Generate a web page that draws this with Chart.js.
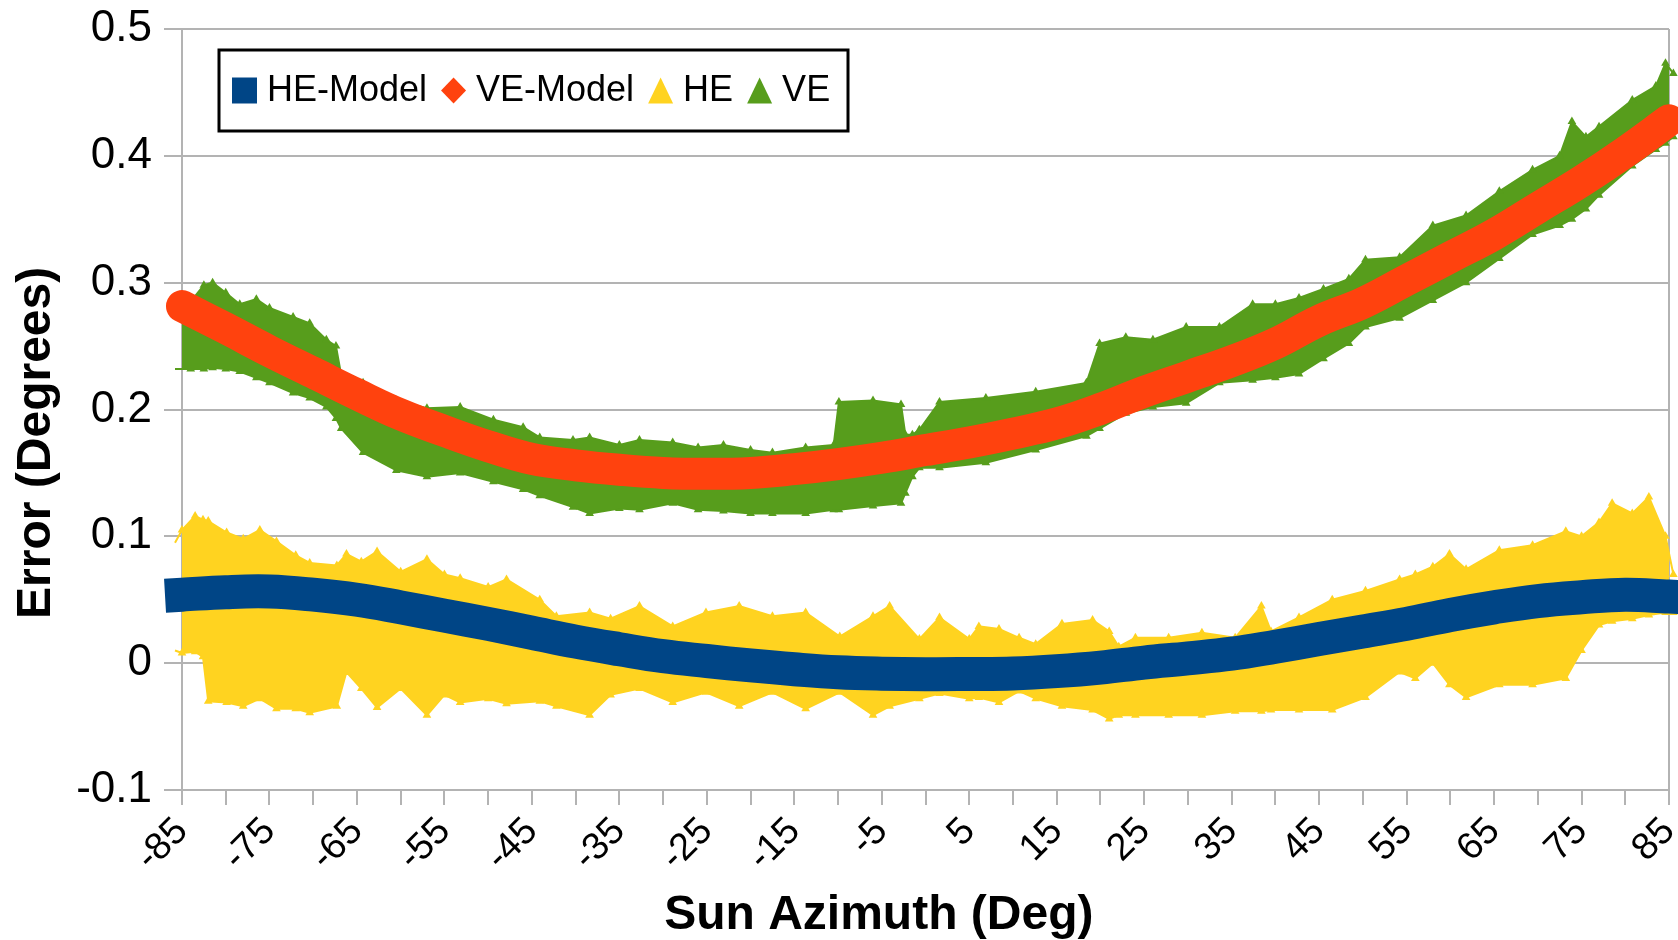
<!DOCTYPE html>
<html>
<head>
<meta charset="utf-8">
<title>Sun Azimuth error</title>
<script src="https://cdn.jsdelivr.net/npm/chart.js@4.4.1/dist/chart.umd.min.js"></script>
<style>
  html, body { margin: 0; padding: 0; background: #fff; }
  #wrap { width: 1678px; height: 940px; }
</style>
</head>
<body>
<div id="wrap"><canvas id="chart" width="1678" height="940"></canvas></div>
<script>
// model curves, one value every 5 degrees of azimuth
const azimuth = [-85, -80, -75, -70, -65, -60, -55, -50, -45, -40, -35, -30, -25, -20, -15, -10, -5, 0,
  5, 10, 15, 20, 25, 30, 35, 40, 45, 50, 55, 60, 65, 70, 75, 80, 85];
const heModel = [0.054, 0.056, 0.0565, 0.054, 0.050, 0.044, 0.0375, 0.031, 0.024, 0.017, 0.011, 0.0055,
  0.0017, -0.0018, -0.0048, -0.0072, -0.0083, -0.0087, -0.0085, -0.0081, -0.0063, -0.0035, 0.0005, 0.0038,
  0.0075, 0.013, 0.019, 0.025, 0.031, 0.038, 0.044, 0.049, 0.052, 0.054, 0.0525];
const veModel = [0.2815, 0.264, 0.246, 0.229, 0.212, 0.196, 0.183, 0.171, 0.161, 0.156, 0.1525, 0.150,
  0.1493, 0.150, 0.153, 0.157, 0.162, 0.168, 0.174, 0.181, 0.189, 0.2005, 0.214, 0.226, 0.238, 0.252,
  0.270, 0.284, 0.302, 0.320, 0.338, 0.359, 0.380, 0.403, 0.428];

// measured clouds, read as upper / lower edge of the point cloud
const veEnvX = [-85.8, -84, -82.5, -81.5, -80, -78.4, -76.5, -75, -72.3, -70.4, -68.5, -67.4, -66.8, -64.3,
  -60.5, -57, -53.2, -49.4, -46, -44.1, -40.3, -38.4, -35, -32.7, -28.9, -26, -23.1, -20, -17.5, -13.7,
  -10.5, -9.9, -6, -2.8, -2.3, -1.5, -0.7, 1.6, 6.9, 12.6, 18.4, 19.9, 22.9, 26, 29.8, 33.6, 37.4, 40,
  42.7, 45.5, 48.4, 50.3, 54.2, 58, 61.8, 65.6, 69.4, 72.5, 73.9, 75.5, 77, 80.8, 83.5, 84.6, 85.5];
const veUpper = [0.272, 0.285, 0.298, 0.300, 0.292, 0.283, 0.287, 0.280, 0.273, 0.268, 0.255, 0.250, 0.227, 0.221,
  0.207, 0.201, 0.202, 0.192, 0.186, 0.178, 0.176, 0.178, 0.172, 0.176, 0.174, 0.170, 0.172, 0.168, 0.166, 0.170,
  0.172, 0.206, 0.207, 0.204, 0.180, 0.180, 0.184, 0.206, 0.209, 0.214, 0.221, 0.252, 0.257, 0.255, 0.265, 0.265, 0.283, 0.283,
  0.288, 0.295, 0.303, 0.318, 0.320, 0.345, 0.353, 0.372, 0.389, 0.400, 0.427, 0.415, 0.423, 0.444, 0.455, 0.473, 0.465];
const veLower = [0.232, 0.232, 0.232, 0.233, 0.232, 0.230, 0.225, 0.221, 0.213, 0.209, 0.202, 0.193, 0.185, 0.166,
  0.152, 0.147, 0.150, 0.143, 0.137, 0.132, 0.123, 0.118, 0.122, 0.121, 0.126, 0.121, 0.120, 0.118, 0.118, 0.118,
  0.121, 0.121, 0.124, 0.126, 0.134, 0.147, 0.154, 0.154, 0.158, 0.168, 0.179, 0.185, 0.197, 0.202, 0.205, 0.221, 0.223, 0.225,
  0.228, 0.240, 0.252, 0.265, 0.272, 0.286, 0.300, 0.319, 0.338, 0.345, 0.350, 0.358, 0.369, 0.392, 0.405, 0.410, 0.415];

const heEnvX = [-85.8, -85, -83.5, -82.6, -82, -79.9, -78, -76.1, -74.2, -72, -70.4, -67.3, -66.2, -64.5, -62.7,
  -60, -57, -55, -53.2, -50, -47.9, -44.1, -42.2, -38.4, -36, -32.7, -28.9, -25.1, -21.3, -17.5, -13.7, -9.8,
  -6, -4.1, -0.7, 1.6, 5, 6.1, 8.4, 10.7, 12.6, 15.6, 19.1, 21, 22.1, 24, 27.8, 31.6, 35.4, 38.4, 39.5, 42.7,
  46.5, 50.3, 54.2, 56, 58, 59.9, 61.8, 65.6, 69.4, 73.2, 75, 77, 78.5, 80.8, 82.7, 84.6, 85.5];
const heUpper = [0.095, 0.105, 0.116, 0.113, 0.112, 0.103, 0.098, 0.105, 0.096, 0.085, 0.079, 0.077, 0.086, 0.080, 0.088,
  0.072, 0.082, 0.070, 0.067, 0.060, 0.066, 0.050, 0.037, 0.040, 0.035, 0.045, 0.029, 0.040, 0.045, 0.037, 0.040, 0.021,
  0.037, 0.045, 0.019, 0.036, 0.019, 0.029, 0.027, 0.020, 0.015, 0.031, 0.034, 0.025, 0.013, 0.020, 0.020, 0.024, 0.020, 0.045, 0.025, 0.036,
  0.050, 0.057, 0.066, 0.070, 0.076, 0.086, 0.074, 0.089, 0.093, 0.104, 0.100, 0.111, 0.126, 0.118, 0.131, 0.100, 0.070];
const heLower = [0.010, 0.008, 0.009, 0.005, -0.030, -0.031, -0.034, -0.028, -0.036, -0.036, -0.039, -0.034, -0.007, -0.020, -0.035,
  -0.020, -0.041, -0.025, -0.031, -0.028, -0.032, -0.030, -0.034, -0.041, -0.025, -0.020, -0.031, -0.023, -0.034, -0.023, -0.036, -0.023,
  -0.041, -0.034, -0.028, -0.024, -0.028, -0.027, -0.031, -0.022, -0.028, -0.034, -0.037, -0.044, -0.041, -0.041, -0.041, -0.041, -0.038, -0.038, -0.037, -0.037,
  -0.037, -0.027, -0.007, -0.012, 0.000, -0.017, -0.027, -0.017, -0.017, -0.012, 0.010, 0.030, 0.033, 0.035, 0.038, 0.040, 0.040];

// labelled x ticks (every other tick mark)
const xLabelValues = [-85, -75, -65, -55, -45, -35, -25, -15, -5, 5, 15, 25, 35, 45, 55, 65, 75, 85];

const HE_MODEL_COLOR = '#004586';
const VE_MODEL_COLOR = '#ff420e';
const HE_COLOR = '#ffd320';
const VE_COLOR = '#579d1c';
const GRID_COLOR = '#b3b3b3';
const NBSP = '\u00A0';

const pts = (xs, ys) => xs.map((x, i) => ({ x: x, y: ys[i] }));

function cloud(label, xs, ys, color, fill, shape) {
  return {
    label: label,
    data: pts(xs, ys),
    borderColor: color,
    backgroundColor: color,
    borderWidth: 2,
    pointStyle: 'triangle',
    pointRadius: 5,
    pointBorderWidth: 0,
    pointBackgroundColor: color,
    tension: 0,
    fill: fill,
    clip: false,
    legendShape: shape
  };
}

// draws the chart frame line on the right side
const frameLine = {
  id: 'frameLine',
  beforeDatasetsDraw(chart) {
    const { ctx, chartArea: a } = chart;
    ctx.save();
    ctx.strokeStyle = GRID_COLOR;
    ctx.lineWidth = 2;
    ctx.beginPath();
    ctx.moveTo(a.right, a.top);
    ctx.lineTo(a.right, a.bottom);
    ctx.stroke();
    ctx.restore();
  }
};

// boxed legend inside the plot area
const boxLegend = {
  id: 'boxLegend',
  afterDraw(chart) {
    const { ctx, chartArea: a } = chart;
    const x0 = a.left + 37, y0 = a.top + 21, w = 629, h = 81;
    const cy = y0 + h / 2;
    ctx.save();
    ctx.fillStyle = '#fff';
    ctx.fillRect(x0, y0, w, h);
    ctx.strokeStyle = '#000';
    ctx.lineWidth = 3;
    ctx.strokeRect(x0, y0, w, h);
    ctx.font = '36px "Liberation Sans", Arial, sans-serif';
    ctx.textBaseline = 'middle';
    let x = x0 + 13;
    chart.data.datasets.forEach(ds => {
      if (!ds.legendShape) return;
      const s = 25, hs = 13;
      ctx.fillStyle = ds.borderColor;
      ctx.beginPath();
      if (ds.legendShape === 'square') {
        ctx.rect(x, cy - hs, s, 2 * hs);
      } else if (ds.legendShape === 'diamond') {
        ctx.moveTo(x + s / 2, cy - hs);
        ctx.lineTo(x + s, cy);
        ctx.lineTo(x + s / 2, cy + hs);
        ctx.lineTo(x, cy);
        ctx.closePath();
      } else {
        ctx.moveTo(x + s / 2, cy - hs);
        ctx.lineTo(x + s, cy + hs);
        ctx.lineTo(x, cy + hs);
        ctx.closePath();
      }
      ctx.fill();
      x += s + 10;
      ctx.fillStyle = '#000';
      ctx.fillText(ds.label, x, cy + 1);
      x += ctx.measureText(ds.label).width + 14;
    });
    ctx.restore();
  }
};

Chart.defaults.font.family = '"Liberation Sans", Arial, sans-serif';
Chart.defaults.color = '#000';

new Chart(document.getElementById('chart'), {
  type: 'line',
  data: {
    datasets: [
      {
        label: 'HE-Model',
        data: pts(azimuth, heModel),
        borderColor: HE_MODEL_COLOR,
        backgroundColor: HE_MODEL_COLOR,
        borderWidth: 34,
        borderCapStyle: 'square',
        pointRadius: 0,
        tension: 0.4,
        fill: false,
        clip: false,
        legendShape: 'square'
      },
      {
        label: 'VE-Model',
        data: pts(azimuth, veModel),
        borderColor: VE_MODEL_COLOR,
        backgroundColor: VE_MODEL_COLOR,
        borderWidth: 32,
        borderCapStyle: 'round',
        pointRadius: 0,
        tension: 0.4,
        fill: false,
        clip: false,
        legendShape: 'diamond'
      },
      cloud('HE', heEnvX, heUpper, HE_COLOR, '+1', 'triangle'),
      cloud('HE lower', heEnvX, heLower, HE_COLOR, false, null),
      cloud('VE', veEnvX, veUpper, VE_COLOR, '+1', 'triangle'),
      cloud('VE lower', veEnvX, veLower, VE_COLOR, false, null)
    ]
  },
  options: {
    responsive: false,
    animation: false,
    layout: { padding: { top: 29, right: 9, left: 0, bottom: 0 } },
    plugins: {
      legend: { display: false },
      tooltip: { enabled: false }
    },
    scales: {
      x: {
        type: 'linear',
        min: -85,
        max: 85,
        ticks: {
          stepSize: 5,
          autoSkip: false,
          minRotation: 45,
          maxRotation: 45,
          padding: 4,
          font: { size: 38 },
          color: '#000',
          callback: v => (xLabelValues.includes(v) ? String(v) : '')
        },
        grid: { drawOnChartArea: false, drawTicks: true, tickLength: 15, color: GRID_COLOR, lineWidth: 2 },
        border: { color: GRID_COLOR, width: 2 },
        title: {
          display: true,
          text: 'Sun Azimuth (Deg)' + NBSP.repeat(7),
          font: { size: 48, weight: 'bold', lineHeight: 1 },
          color: '#000',
          padding: { top: 0, bottom: 0 }
        },
        afterFit: s => { s.height = 150; s.paddingLeft = 0; s.paddingRight = 0; }
      },
      y: {
        min: -0.1,
        max: 0.5,
        ticks: {
          stepSize: 0.1,
          padding: 12,
          font: { size: 44 },
          color: '#000',
          callback: v => String(Math.round(v * 10) / 10)
        },
        grid: { color: GRID_COLOR, lineWidth: 2, tickLength: 18 },
        border: { color: GRID_COLOR, width: 2 },
        title: {
          display: true,
          text: 'Error (Degrees)' + NBSP.repeat(5),
          font: { size: 48, weight: 'bold', lineHeight: 1 },
          color: '#000',
          padding: { top: 13, bottom: 0 }
        },
        afterFit: s => { s.width = 182; s.paddingTop = 0; s.paddingBottom = 0; }
      }
    }
  },
  plugins: [frameLine, boxLegend]
});
</script>
</body>
</html>
